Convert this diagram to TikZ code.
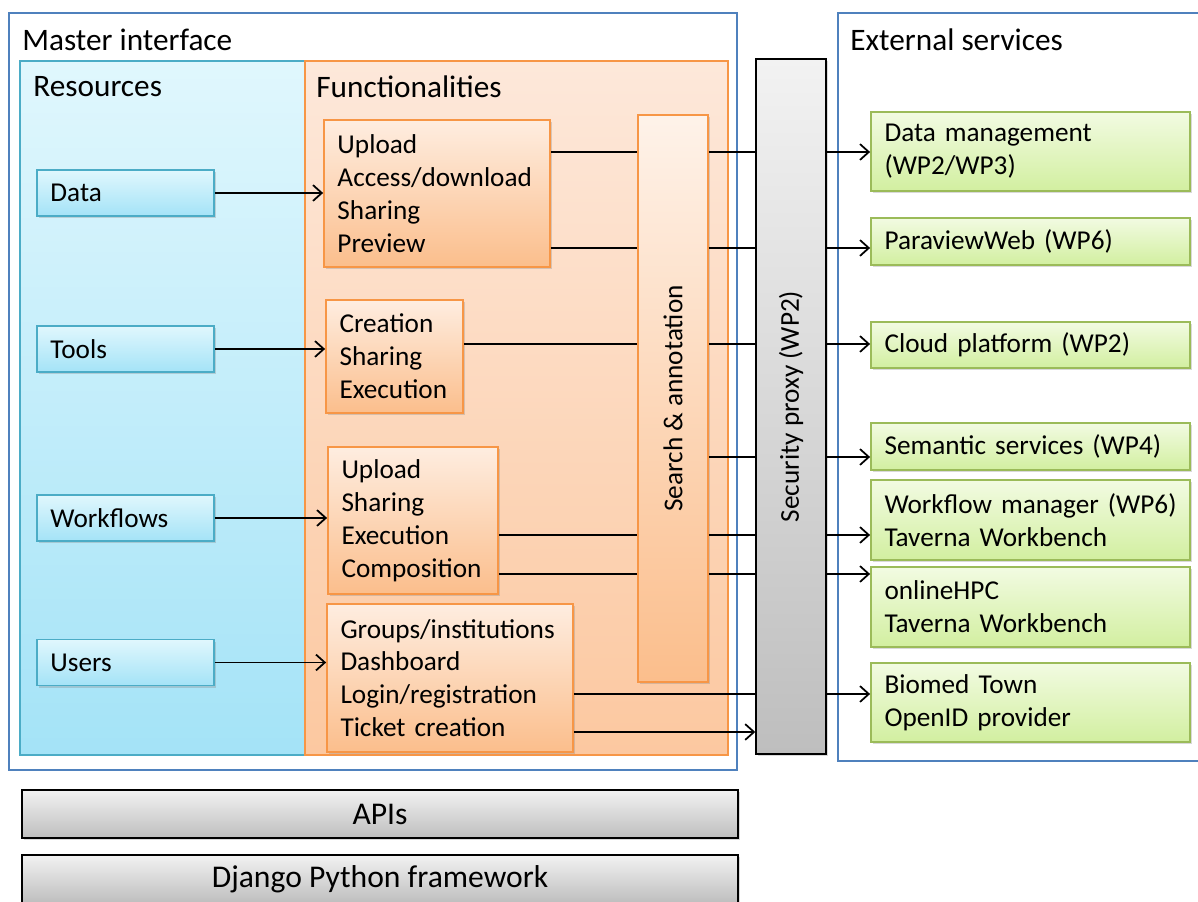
\documentclass[tikz,border=0pt]{standalone}
\usepackage{fontspec}
\setmainfont{Carlito}
\usepackage{graphicx}
\usetikzlibrary{positioning,shadows,arrows.meta}

\definecolor{panelblue}{RGB}{79,129,189}
\definecolor{resline}{RGB}{75,172,198}
\definecolor{resA}{RGB}{224,247,253}
\definecolor{resB}{RGB}{164,227,247}
\definecolor{funcline}{RGB}{247,150,70}
\definecolor{panelA}{RGB}{253,232,218}
\definecolor{panelB}{RGB}{252,200,160}
\definecolor{funcA}{RGB}{254,237,224}
\definecolor{funcB}{RGB}{251,190,140}
\definecolor{extline}{RGB}{155,187,89}
\definecolor{extA}{RGB}{242,251,226}
\definecolor{extB}{RGB}{210,239,160}
\definecolor{greyA}{RGB}{242,242,242}
\definecolor{greyB}{RGB}{190,190,190}

\begin{document}
\begin{tikzpicture}[x=0.02cm, y=-0.02cm,
    every node/.style={font=\fontsize{15.5}{18.7}\selectfont},
    head/.style={font=\fontsize{17.8}{21}\selectfont, anchor=west, inner sep=0pt},
    wh/.style 2 args={minimum width=#1*0.02cm, minimum height=#2*0.02cm, inner sep=0pt},
    tbox/.style 2 args={text width=#1*0.02cm-0.54cm, inner xsep=0.27cm, inner ysep=0pt,
        minimum height=#2*0.02cm, align=left},
    shadowed/.style={drop shadow={shadow xshift=1.3pt, shadow yshift=-1.3pt, opacity=0.3}},
    panel/.style={draw=panelblue, line width=1.5pt},
    resbox/.style={draw=resline, line width=0.9pt, top color=resA, bottom color=resB, shadowed},
    funcbox/.style={draw=funcline, line width=1pt, top color=funcA, bottom color=funcB, shadowed},
    extbox/.style={draw=extline, line width=1pt, top color=extA, bottom color=extB, shadowed},
    greybox/.style={draw=black, line width=0.8pt, top color=greyA, bottom color=greyB},
    link/.style={line width=1pt},
    flow/.style={line width=1pt, -{Straight Barb[length=5pt, width=9pt]}}
]
\useasboundingbox (0,0) rectangle (1198,902);

% outer frames
\draw[panel] (9,13) rectangle (737,770);
\draw[panel] (838,13) rectangle (1215,761);
\draw[draw=resline, line width=0.9pt, top color=resA, bottom color=resB] (20,61) rectangle (305,755);
\draw[draw=funcline, line width=1pt, top color=panelA, bottom color=panelB] (305,61) rectangle (728,755);

\node[head] (master) at (22,40) {Master interface};
\node[head] (ext) at (850,40) {External services};
\node[head] (res) at (33,87) {Resources};
\node[head] (func) at (316,87) {Functionalities};

% resources
\node[resbox, tbox={177}{46}] (data) at (125.5,193) {Data};
\node[resbox, tbox={177}{46}] (tools) at (125.5,349) {Tools};
\node[resbox, tbox={177}{46}] (workflows) at (125.5,518) {Workflows};
\node[resbox, tbox={177}{46}] (users) at (125.5,662.5) {Users};

% functionalities
\node[funcbox, tbox={226}{147}] (f1) at (437,193.5) {Upload\\Access/download\\Sharing\\Preview};
\node[funcbox, tbox={137}{113}] (f2) at (394.5,356.5) {Creation\\Sharing\\Execution};
\node[funcbox, tbox={170}{147}] (f3) at (413,520.5) {Upload\\Sharing\\Execution\\Composition};
\node[funcbox, tbox={246}{148}] (f4) at (450,678) {Groups/institutions\\Dashboard\\Login/registration\\Ticket creation};

\node[funcbox, wh={70}{567}, top color=funcA!70!white] (search) at (673,398.5) {\rotatebox{90}{Search \& annotation}};
\node[greybox, wh={70}{695}, shadowed] (proxy) at (791,406.5) {\rotatebox{90}{Security proxy (WP2)}};

% external services
\node[extbox, tbox={319}{79}] (dm) at (1030.5,151.5) {Data management\\(WP2/WP3)};
\node[extbox, tbox={319}{47}] (pvw) at (1030.5,241.5) {ParaviewWeb (WP6)};
\node[extbox, tbox={319}{46}] (cloud) at (1030.5,345) {Cloud platform (WP2)};
\node[extbox, tbox={319}{47}] (sem) at (1030.5,446.5) {Semantic services (WP4)};
\node[extbox, tbox={319}{80}] (wfm) at (1030.5,520) {\mbox{Workflow manager (WP6)}\\Taverna Workbench};
\node[extbox, tbox={319}{80}] (hpc) at (1030.5,607) {onlineHPC\\Taverna Workbench};
\node[extbox, tbox={319}{79}] (biomed) at (1030.5,702.5) {Biomed Town\\OpenID provider};

% base layers
\node[greybox, wh={716}{48}, shadowed, font=\fontsize{18}{21}\selectfont] (apis) at (380,814) {APIs};
\node[greybox, wh={716}{48}, shadowed, font=\fontsize{18}{21}\selectfont] (django) at (380,879) {Django Python framework};

% rows of the connectors
\coordinate (r1) at (0,152);
\coordinate (r2) at (0,248);
\coordinate (r3) at (0,344);
\coordinate (r4) at (0,457);
\coordinate (r5) at (0,535);
\coordinate (r6) at (0,574);
\coordinate (r7) at (0,694);
\coordinate (r8) at (0,732);

% resources -> functionalities
\foreach \a/\b in {data/f1, tools/f2, workflows/f3, users/f4}
    \draw[flow] (\a.east) -- (\b.west |- \a.east);

% functionalities -> search
\foreach \a/\r in {f1/r1, f1/r2, f2/r3, f3/r5, f3/r6}
    \draw[link] (\a.east |- \r) -- (search.west |- \r);

% search -> proxy
\foreach \r in {r1,r2,r3,r4,r5,r6}
    \draw[link] (search.east |- \r) -- (proxy.west |- \r);
\draw[link] (f4.east |- r7) -- (proxy.west |- r7);
\draw[flow] (f4.east |- r8) -- (proxy.west |- r8);

% proxy -> services
\foreach \r/\s in {r1/dm, r2/pvw, r3/cloud, r4/sem, r5/wfm, r6/hpc, r7/biomed}
    \draw[flow] (proxy.east |- \r) -- (\s.west |- \r);
\end{tikzpicture}
\end{document}
